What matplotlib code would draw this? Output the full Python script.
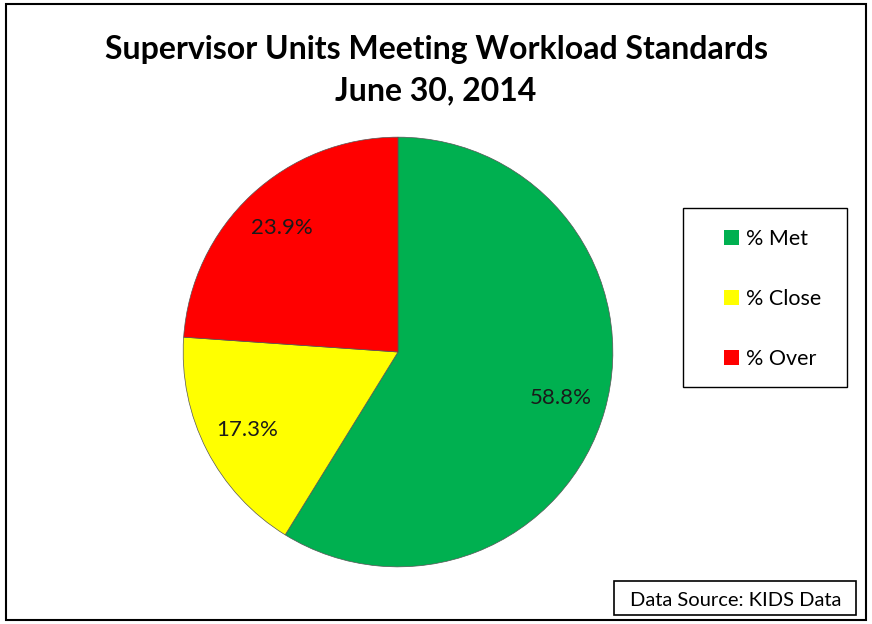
import matplotlib.pyplot as plt
from matplotlib.patches import Rectangle, Patch

plt.rcParams['font.family'] = ['Lato', 'DejaVu Sans']

categories = ['% Met', '% Close', '% Over']
shares = [58.8, 17.3, 23.9]
colors = ['#00B050', '#FFFF00', '#FF0000']

W, H = 872, 624
fig = plt.figure(figsize=(W / 100, H / 100), dpi=100)


def px_box(x0, y0, x1, y1, lw):
    # rectangle given in pixel coords (origin top-left)
    fig.patches.append(Rectangle((x0 / W, 1 - y1 / H), (x1 - x0) / W, (y1 - y0) / H,
                                 transform=fig.transFigure, fill=False,
                                 edgecolor='black', linewidth=lw))


# outer frame
px_box(6, 4, 866, 620, 1.5)

# pie axes placed in pixel terms
cx, cy, r = 398, 352, 217
ax = fig.add_axes([(cx - r) / W, (H - cy - r) / H, 2 * r / W, 2 * r / H])
wedges, texts, autotexts = ax.pie(
    shares, colors=colors, startangle=90, counterclock=False,
    autopct='%.1f%%', pctdistance=0.79,
    wedgeprops=dict(edgecolor='#555555', linewidth=0.5),
    textprops=dict(fontsize=16, color='#1a1a1a'))
ax.set_xlim(-1.01, 1.01)
ax.set_ylim(-1.01, 1.01)
ax.set_aspect('equal')

fig.text(0.5, 1 - 50 / H, 'Supervisor Units Meeting Workload Standards',
         ha='center', va='center', fontsize=23, fontweight='bold')
fig.text(0.5, 1 - 91 / H, 'June 30, 2014',
         ha='center', va='center', fontsize=23, fontweight='bold')

# legend
px_box(683, 208, 847, 387, 1.0)
handles = [Patch(facecolor=c, edgecolor='none') for c in colors]
leg = fig.legend(handles, categories, loc='center left',
                 bbox_to_anchor=(724 / W, 1 - 299 / H),
                 fontsize=15.5, frameon=False,
                 handlelength=0.7, handleheight=0.7, handletextpad=0.3,
                 labelspacing=1.85, borderpad=0, borderaxespad=0)

# source note
px_box(614, 581, 856, 615, 1.2)
fig.text(736 / W, 1 - 600 / H, 'Data Source: KIDS Data', ha='center', va='center',
         fontsize=14.5)

fig.savefig('out.png', dpi=100)
